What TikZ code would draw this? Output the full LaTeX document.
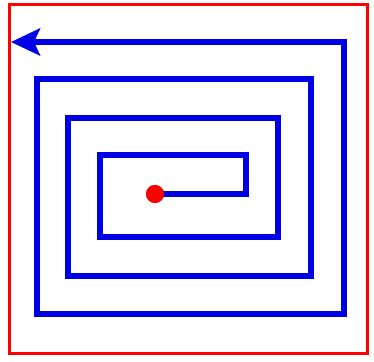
\documentclass[tikz,border=0pt]{standalone}
\usetikzlibrary{arrows.meta}
\begin{document}
\begin{tikzpicture}[x=1pt,y=-1pt,
  frame/.style={draw=red,line width=3pt},
  spiral/.style={draw=blue!90!black,line width=5.5pt,line join=miter,-{Stealth[length=29pt,width=27pt,inset=6pt]}},
  dot/.style={circle,fill=red,inner sep=0pt,minimum size=18pt}]
\useasboundingbox (0,0) rectangle (374,361);
\draw[frame] (9,5) rectangle (367,353);
\node[dot] (start) at (155,194) {};
\coordinate (end) at (11,42);
\draw[spiral] (start.center) -- (246,194) -- (246,155) -- (100,155) -- (100,237)
  -- (278,237) -- (278,118) -- (68,118) -- (68,276) -- (311,276) -- (311,79)
  -- (37,79) -- (37,314) -- (344,314) -- (344,42) -- (end);
\node[dot] at (start) {};
\end{tikzpicture}
\end{document}
